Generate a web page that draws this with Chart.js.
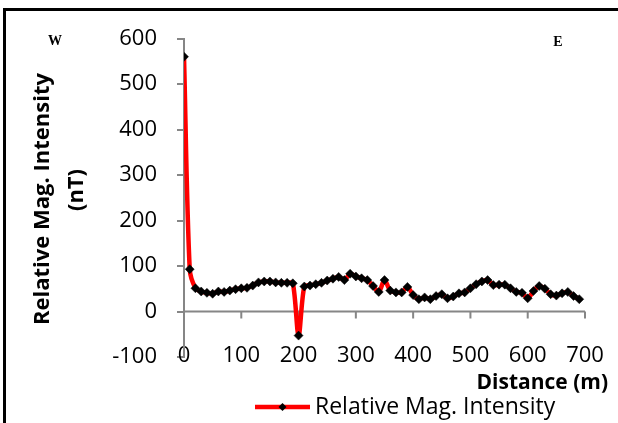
<!DOCTYPE html>
<html>
<head>
<meta charset="utf-8">
<title>Magnetic profile</title>
<script src="https://cdn.jsdelivr.net/npm/chart.js@4.4.1/dist/chart.umd.min.js"></script>
<style>
html,body{margin:0;padding:0;background:#fff;}
canvas{display:block;}
</style>
</head>
<body>
<canvas id="magChart" width="618" height="423"></canvas>
<script>
// survey line readings, every 10 m from west to east
const distances=[0,10,20,30,40,50,60,70,80,90,100,110,120,130,140,150,160,170,180,190,
  200,210,220,230,240,250,260,270,280,290,300,310,320,330,340,350,360,370,380,390,
  400,410,420,430,440,450,460,470,480,490,500,510,520,530,540,550,560,570,580,590,
  600,610,620,630,640,650,660,670,680,690];
const intensity=[560,93,51,44,41,39,44,43,46,49,51,52,57,64,66,66,64,63,63,62,
  -53,55,57,60,63,68,72,76,69,83,77,73,69,56,43,69,46,42,42,54,
  36,27,31,27,34,38,29,33,40,42,51,60,66,69,58,59,59,51,43,41,
  29,45,56,50,38,35,40,43,34,27];
const xTicks=[0,100,200,300,400,500,600,700];
const yTicks=[-100,0,100,200,300,400,500,600];

const axisGrey='#868686';
const tickFont={family:'"Open Sans"',size:22};

// zero line with tick marks, titles, W/E markers, legend and outer frame
const decor={
  id:'decor',
  beforeDatasetsDraw(chart){
    const {ctx,chartArea,scales:{x,y}}=chart;
    const y0=y.getPixelForValue(0);
    ctx.save();
    ctx.strokeStyle=axisGrey;
    ctx.lineWidth=2;
    ctx.beginPath();
    ctx.moveTo(chartArea.left,y0);
    ctx.lineTo(chartArea.right,y0);
    xTicks.forEach(v=>{
      const px=x.getPixelForValue(v);
      ctx.moveTo(px,y0);
      ctx.lineTo(px,y0+7);
    });
    ctx.stroke();
    ctx.restore();
  },
  afterDraw(chart){
    const {ctx}=chart;
    const ds=chart.data.datasets[0];
    ctx.save();
    ctx.fillStyle='#000';
    ctx.fillRect(3,8,3,423);
    ctx.fillRect(3,8,615,3);

    ctx.font='bold 14px "Liberation Serif"';
    ctx.textAlign='center';
    ctx.textBaseline='middle';
    ctx.fillText('W',55,41);
    ctx.fillText('E',558,42.5);

    ctx.font='bold 22px "Open Sans"';
    ctx.save();
    ctx.translate(43,199);
    ctx.rotate(-Math.PI/2);
    ctx.fillText('Relative Mag. Intensity',0,0);
    ctx.restore();
    ctx.save();
    ctx.translate(77,190);
    ctx.rotate(-Math.PI/2);
    ctx.fillText('(nT)',0,0);
    ctx.restore();

    ctx.font='bold 21px "Open Sans"';
    ctx.textAlign='right';
    ctx.fillText('Distance (m)',608,383);

    // legend entry
    ctx.strokeStyle=ds.borderColor;
    ctx.lineWidth=ds.borderWidth;
    ctx.beginPath();
    ctx.moveTo(255,407);
    ctx.lineTo(310,407);
    ctx.stroke();
    ctx.fillStyle=ds.pointBackgroundColor;
    ctx.beginPath();
    ctx.moveTo(282.5,403);
    ctx.lineTo(286.5,407);
    ctx.lineTo(282.5,411);
    ctx.lineTo(278.5,407);
    ctx.closePath();
    ctx.fill();
    ctx.fillStyle='#000';
    ctx.font='23px "Open Sans"';
    ctx.textAlign='left';
    ctx.fillText(ds.label,315,407);
    ctx.restore();
  }
};

new Chart(document.getElementById('magChart'),{
  type:'line',
  data:{
    datasets:[{
      label:'Relative Mag. Intensity',
      data:distances.map((d,i)=>({x:d,y:intensity[i]})),
      borderColor:'#ff0000',
      borderWidth:4.5,
      tension:0.3,
      pointStyle:'rectRot',
      pointRadius:4.5,
      pointBackgroundColor:'#000',
      pointBorderColor:'#000',
      pointBorderWidth:0.5
    }]
  },
  options:{
    responsive:false,
    animation:false,
    events:[],
    layout:{padding:{top:38.5,right:33,bottom:0,left:0}},
    plugins:{legend:{display:false},tooltip:{enabled:false}},
    scales:{
      x:{
        type:'linear',
        min:0,max:700,
        afterBuildTicks:s=>{s.ticks=xTicks.map(v=>({value:v}));},
        afterFit:s=>{s.height=66;},
        border:{display:false},
        grid:{display:false,drawTicks:false},
        // labels sit level with the -100 tick, so they are mirrored up into the plot
        ticks:{color:'#000',font:tickFont,mirror:true,padding:-12,maxRotation:0}
      },
      y:{
        min:-100,max:600,
        afterBuildTicks:s=>{s.ticks=yTicks.map(v=>({value:v}));},
        afterFit:s=>{s.width=184;},
        border:{color:axisGrey,width:2},
        grid:{drawOnChartArea:false,drawTicks:true,tickLength:7,color:axisGrey,lineWidth:2},
        ticks:{color:'#000',font:tickFont,padding:20}
      }
    }
  },
  plugins:[decor]
});
</script>
</body>
</html>
